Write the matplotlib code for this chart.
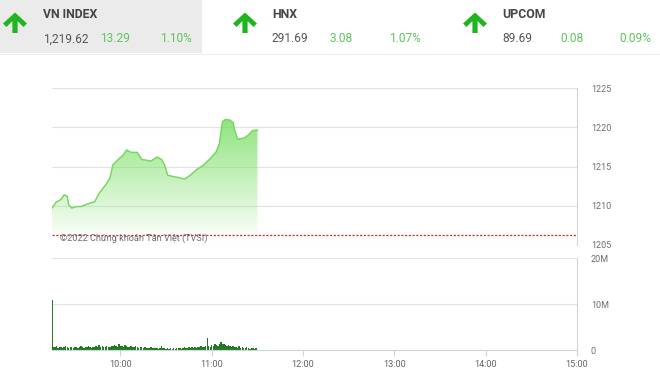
import matplotlib
matplotlib.use("Agg")
import matplotlib.pyplot as plt
import numpy as np
from matplotlib.patches import Polygon, Rectangle

plt.rcParams['font.family'] = ['Roboto', 'DejaVu Sans']

# header quotes
idx_names = ["VN INDEX", "HNX", "UPCOM"]
idx_last = ["1,219.62", "291.69", "89.69"]
idx_chg = ["13.29", "3.08", "0.08"]
idx_pct = ["1.10%", "1.07%", "0.09%"]

# VN-Index intraday
price_times = ["09:15", "09:16", "09:18", "09:21", "09:23", "09:25", "09:26", "09:28",
               "09:31", "09:34", "09:38", "09:41", "09:43", "09:46", "09:50", "09:53",
               "09:55", "09:58", "10:02", "10:04", "10:07", "10:11", "10:14", "10:17",
               "10:20", "10:24", "10:27", "10:29", "10:31", "10:35", "10:38", "10:42",
               "10:46", "10:50", "10:54", "10:59", "11:03", "11:05", "11:07", "11:09",
               "11:12", "11:14", "11:15", "11:17", "11:21", "11:24", "11:27", "11:30"]
prices = [1209.7, 1210.0, 1210.5, 1210.8, 1211.4, 1211.2, 1210.1, 1209.7,
          1209.9, 1209.9, 1210.2, 1210.4, 1210.5, 1211.6, 1212.6, 1213.5,
          1215.2, 1215.8, 1216.5, 1217.1, 1216.8, 1216.8, 1215.9, 1215.8,
          1215.7, 1216.2, 1215.9, 1215.2, 1213.9, 1213.7, 1213.6, 1213.4,
          1213.9, 1214.6, 1215.1, 1216.0, 1216.9, 1217.95, 1220.7, 1221.0,
          1220.9, 1220.6, 1219.65, 1218.5, 1218.6, 1219.0, 1219.6, 1219.62]
ref_price = 1206.33
fill_base = 1206.7

# volume per minute from 09:15, in millions
volume = [10.9, 0.7, 0.6, 0.8, 0.5, 0.6, 0.7, 0.5, 0.6, 0.8, 0.6, 0.5, 0.7, 0.6, 0.5,
          0.6, 0.7, 0.5, 0.6, 0.8, 0.6, 0.5, 0.6, 0.7, 0.9, 0.6, 0.5, 0.7, 0.6, 0.8,
          0.7, 1.0, 0.6, 0.8, 0.7, 0.6, 0.9, 0.7, 0.6, 0.8, 0.9, 1.1, 0.8, 0.7, 1.2,
          0.9, 0.8, 0.7, 1.0, 0.8, 0.6, 0.7, 0.9, 0.6, 0.7, 0.8, 0.6, 0.5, 0.7, 0.6,
          0.5, 0.6, 0.5, 0.4, 0.5, 0.6, 0.4, 0.5, 0.4, 0.5, 0.3, 0.4, 0.8, 0.4, 0.5,
          0.3, 0.4, 0.3, 0.5, 0.3, 0.4, 0.3, 0.4, 0.5, 0.4, 0.3, 0.5, 0.6, 0.4, 0.5,
          0.6, 0.5, 0.7, 0.5, 0.6, 0.5, 0.7, 0.6, 0.8, 0.7, 0.6, 0.8, 2.6, 0.9, 0.7,
          1.0, 0.9, 1.2, 1.1, 0.9, 1.3, 1.7, 1.2, 1.4, 1.1, 0.9, 1.0, 0.8, 0.7, 0.9,
          0.6, 0.7, 0.5, 0.8, 0.5, 0.6, 0.4, 0.5, 0.6, 0.4, 0.3, 0.5, 0.4, 0.3, 0.4]

hour_ticks = ["10:00", "11:00", "12:00", "13:00", "14:00", "15:00"]


def to_min(s):
    h, m = s.split(":")
    return int(h) * 60 + int(m)


px = np.array([to_min(t) for t in price_times], dtype=float)
py = np.array(prices)
vx = to_min("09:15") + np.arange(len(volume))
xmin, xmax = to_min("09:15"), to_min("15:00")
xt = [to_min(t) for t in hour_ticks]

W, H = 660, 381
fig = plt.figure(figsize=(6.6, 3.81), dpi=100)
fig.patch.set_facecolor("white")

# ---- header drawn in pixel coords
axh = fig.add_axes([0, 0, 1, 1], zorder=0)
axh.set_xlim(0, W); axh.set_ylim(H, 0); axh.axis("off")
axh.add_patch(Rectangle((0, 0), 202, 53, color="#ebebeb", lw=0))
axh.plot([0, W], [53.5, 53.5], color="#eeeeee", lw=0.8)

arrow_x = [3, 233, 463]
name_x = [43, 272, 502]
chg_x = [100, 330, 560]
pct_x = [192, 421, 651]
green = "#5cc45c"
for i in range(3):
    ax0 = arrow_x[i]
    shape = np.array([(12, 0), (24, 11), (20.5, 14.5), (14.6, 8.6), (14.6, 20.5),
                      (9.4, 20.5), (9.4, 8.6), (3.5, 14.5), (0, 11)])
    shape[:, 0] += ax0
    shape[:, 1] += 12.5
    axh.add_patch(Polygon(shape, closed=True, color="#1fb51f", lw=0))
    axh.text(name_x[i], 15, idx_names[i], fontsize=8.8, fontweight="bold",
             color="#454545", va="center", ha="left")
    axh.text(name_x[i], 39, idx_last[i], fontsize=8.6, color="#555555",
             va="center", ha="left")
    axh.text(chg_x[i], 39, idx_chg[i], fontsize=8.6, color=green,
             va="center", ha="left")
    axh.text(pct_x[i], 39, idx_pct[i], fontsize=8.6, color=green,
             va="center", ha="right")

# ---- price panel
grid_c = "#e2e2e2"
spine_c = "#ccd6df"
ax = fig.add_axes([52 / W, (H - 245) / H, 525 / W, 157 / H], zorder=2)
ax.patch.set_alpha(0)
ax.set_xlim(xmin, xmax)
ax.set_ylim(1205, 1225)
ax.set_yticks([1205, 1210, 1215, 1220, 1225])
ax.yaxis.tick_right()
ax.tick_params(axis="y", length=0, pad=10, labelsize=6.5, labelcolor="#6f6f6f")
ax.set_xticks([])
for s in ["left", "top", "bottom"]:
    ax.spines[s].set_visible(False)
ax.spines["right"].set_color(spine_c)
ax.spines["right"].set_linewidth(0.8)
ax.grid(axis="y", color=grid_c, lw=0.8)
ax.set_axisbelow(True)

# gradient fill under the line
poly = ax.fill_between(px, py, fill_base, color="none", lw=0)
grad = np.zeros((256, 1, 4))
grad[:, 0, 0] = 0.50
grad[:, 0, 1] = 0.88
grad[:, 0, 2] = 0.42
grad[:, 0, 3] = np.linspace(0.9, 0.07, 256)
img = ax.imshow(grad, aspect="auto", origin="upper",
                extent=[px[0], px[-1], fill_base, 1221.5], zorder=1)
img.set_clip_path(poly.get_paths()[0], transform=ax.transData)
ax.set_xlim(xmin, xmax)
ax.set_ylim(1205, 1225)
ax.plot(px, py, color="#78d862", lw=1.1, zorder=3)
ax.axhline(ref_price, color="#c0392b", lw=0.9, ls=(0, (1.8, 1.2)), zorder=4)
ax.text(to_min("09:20"), 1205.9, "©2022 Chứng khoán Tân Việt (TVSI)", fontsize=6.6,
        color="#6e6e6e", ha="left", va="center", zorder=5)

# ---- volume panel
axv = fig.add_axes([52 / W, (H - 350) / H, 525 / W, 92 / H], zorder=2)
axv.patch.set_alpha(0)
axv.bar(vx, volume, width=0.9, color="#247a24", lw=0)
axv.set_xlim(xmin, xmax)
axv.set_ylim(0, 20)
axv.set_yticks([0, 10, 20])
axv.set_yticklabels(["0", "10M", "20M"])
axv.yaxis.tick_right()
axv.tick_params(axis="y", length=0, pad=10, labelsize=6.5, labelcolor="#6f6f6f")
axv.set_xticks(xt)
axv.set_xticklabels(hour_ticks)
axv.tick_params(axis="x", length=4, width=0.8, color=spine_c, pad=3,
                labelsize=6.6, labelcolor="#666666")
for s in ["left", "top"]:
    axv.spines[s].set_visible(False)
for s in ["right", "bottom"]:
    axv.spines[s].set_color(spine_c)
    axv.spines[s].set_linewidth(0.8)
axv.grid(axis="y", color=grid_c, lw=0.8)
axv.set_axisbelow(True)

fig.savefig("out.png", dpi=100)
